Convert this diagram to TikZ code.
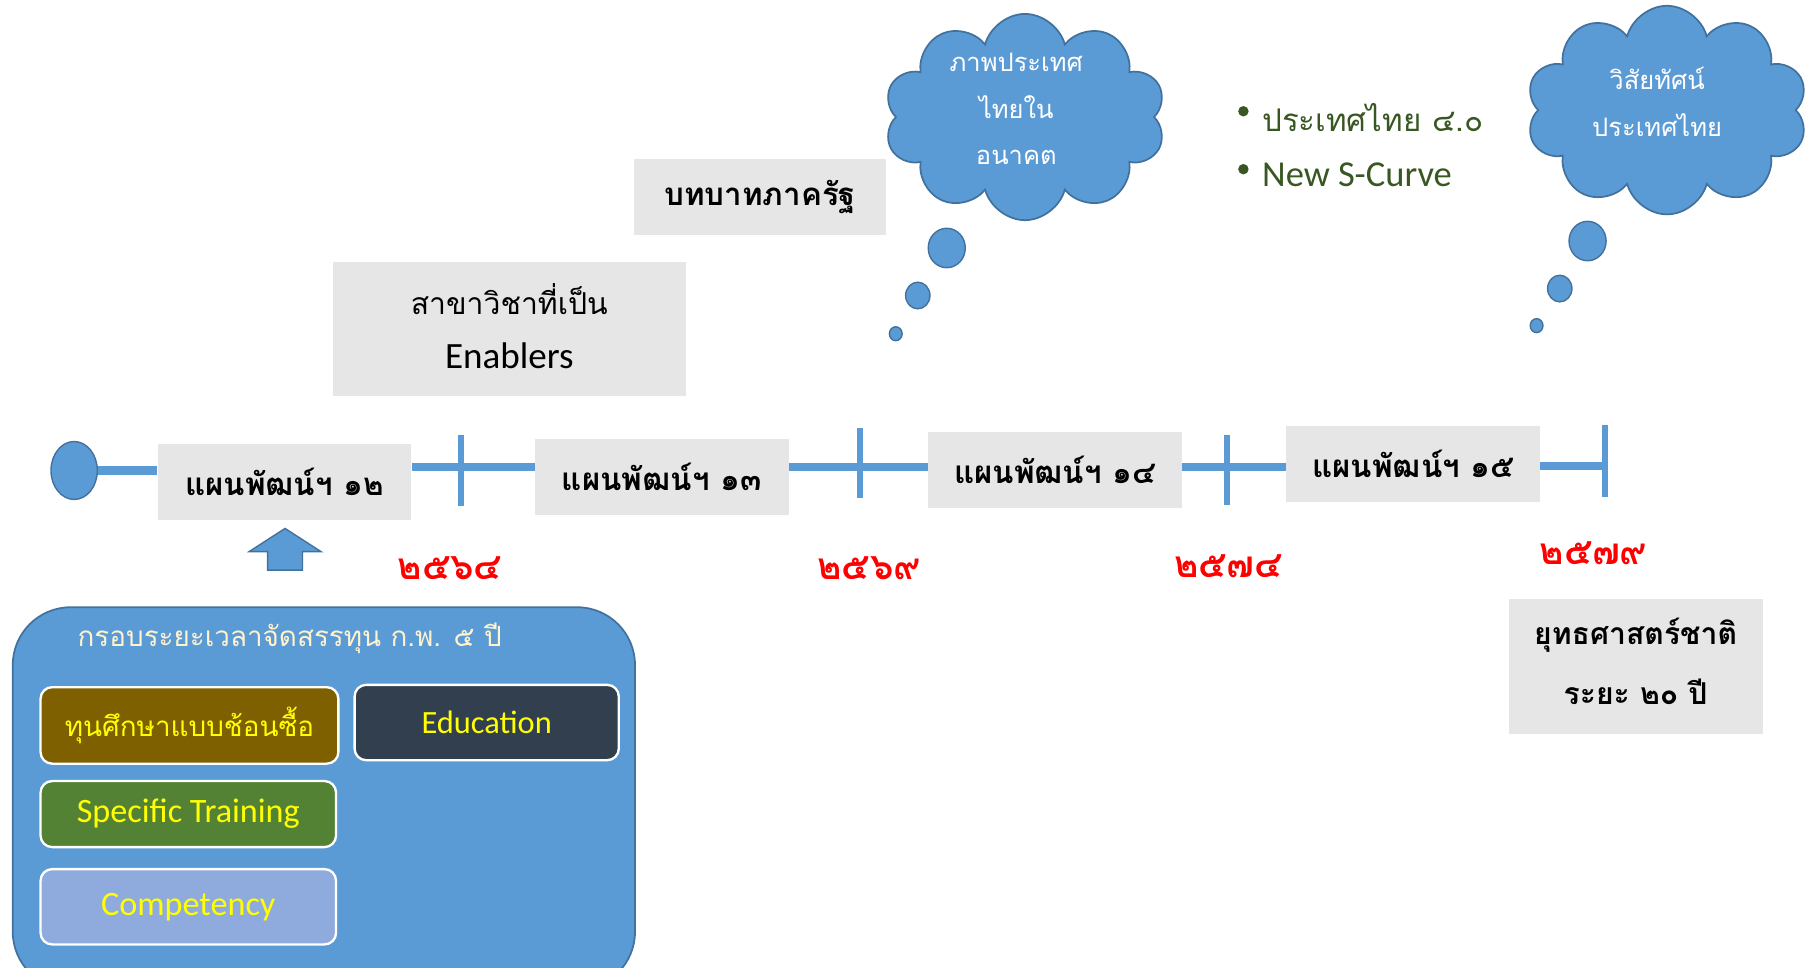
\documentclass[tikz,border=0pt]{standalone}
\usepackage{fontspec}
\setmainfont{Carlito}
\newfontfamily\thai[Script=Thai]{Loma}
\usetikzlibrary{shapes.symbols,shapes.geometric,calc}
\definecolor{blueF}{HTML}{5B9BD5}
\definecolor{blueD}{HTML}{41719C}
\definecolor{grayB}{HTML}{E7E6E6}
\definecolor{redY}{HTML}{FF0000}
\definecolor{cream}{HTML}{FFF2CC}
\definecolor{gold}{HTML}{7F6000}
\definecolor{slate}{HTML}{323F4F}
\definecolor{greenB}{HTML}{548235}
\definecolor{lav}{HTML}{8FAADC}
\definecolor{yel}{HTML}{FFFF00}
\definecolor{dgreen}{HTML}{385723}
\tikzset{
  graybox/.style={fill=grayB, draw=none, inner sep=0, align=center},
  plan/.style={graybox, minimum width=219pt, minimum height=66pt, font=\thai\bfseries\fontsize{27}{32}\selectfont},
  tl/.style={draw=blueF, line width=7pt},
  tick/.style={draw=blueF, line width=5pt},
  yr/.style={text=redY, font=\thai\bfseries\fontsize{32}{36}\selectfont, inner sep=0},
  inner/.style={draw=white, line width=2pt, rounded corners=10pt, inner sep=0, text=yel},
  cloudy/.style={cloud, cloud puffs=10, cloud ignores aspect, fill=blueF, draw=blueD, line width=1.5pt, inner sep=0},
  bub/.style={ellipse, fill=blueF, draw=blueD, line width=1.2pt, inner sep=0},
}
\begin{document}
\begin{tikzpicture}[x=1pt,y=-1pt]
\useasboundingbox (0,0) rectangle (1568,835);
% timeline
\node[ellipse, fill=blueF, draw=blueD, line width=1.2pt, minimum width=40pt, minimum height=50pt, inner sep=0] (e) at (64,406) {};
\node[plan] (p12) at (245.5,416) {แผนพัฒน์ฯ ๑๒};
\node[plan] (p13) at (571,411.5) {แผนพัฒน์ฯ ๑๓};
\node[plan] (p14) at (910.5,405.5) {แผนพัฒน์ฯ ๑๔};
\node[plan] (p15) at (1219.5,400.5) {แผนพัฒน์ฯ ๑๕};
\coordinate (k1) at (398,403);
\coordinate (k2) at (742,403);
\coordinate (k3) at (1059,403);
\coordinate (k4) at (1385,402);
\draw[tl] (e.east) -- (e.east -| p12.west);
\draw[tl] (p12.east |- k1) -- (k1) -- (p13.west |- k1);
\draw[tl] (p13.east |- k2) -- (k2) -- (p14.west |- k2);
\draw[tl] (p14.east |- k3) -- (k3) -- (p15.west |- k3);
\draw[tl] (p15.east |- k4) -- (k4);
\draw[tick] ($(k1)+(0,-28)$) -- ($(k1)+(0,34)$);
\draw[tick] ($(k2)+(0,-34)$) -- ($(k2)+(0,27)$);
\draw[tick] ($(k3)+(0,-28)$) -- ($(k3)+(0,33)$);
\draw[tick] ($(k4)+(0,-35)$) -- ($(k4)+(0,27)$);
% years
\node[yr] (y1) at (388,490) {๒๕๖๔};
\node[yr] (y2) at (750,490) {๒๕๖๙};
\node[yr] (y3) at (1060,489) {๒๕๗๔};
\node[yr] (y4) at (1375,477) {๒๕๗๙};
% up arrow
\draw[fill=blueF, draw=blueD, line width=1.2pt] (231,492) -- (231,476) -- (215,476) -- (246,456) -- (277,476) -- (261,476) -- (261,492) -- cycle;
% big box
\node[fill=blueF, draw=blueD, line width=1.5pt, rounded corners=50pt, minimum width=537pt, minimum height=330pt, inner sep=0] (big) at (279.5,689) {};
\node[text=cream, font=\thai\fontsize{24}{28}\selectfont, inner sep=0] (ttl) at (250,551) {กรอบระยะเวลาจัดสรรทุน ก.พ. ๕ ปี};
\node[inner, fill=gold, minimum width=257pt, minimum height=66pt, font=\thai\fontsize{24}{28}\selectfont] (b1) at (163.5,626) {ทุนศึกษาแบบช้อนซื้อ};
\node[inner, fill=slate, minimum width=228pt, minimum height=65pt, font=\fontsize{28}{32}\selectfont] (b2) at (420,623.5) {Education};
\node[inner, fill=greenB, minimum width=255pt, minimum height=57pt, font=\fontsize{29.5}{33}\selectfont] (b3) at (162.5,702.5) {Specific Training};
\node[inner, fill=lav, minimum width=255pt, minimum height=65pt, font=\fontsize{29.5}{33}\selectfont] (b4) at (162.5,782.5) {Competency};
% top boxes
\node[graybox, minimum width=305pt, minimum height=116pt] (en) at (439.5,284) {};
\node[font=\thai\fontsize{26}{31}\selectfont, inner sep=0] (en1) at (439.5,258) {สาขาวิชาที่เป็น};
\node[font=\fontsize{32}{36}\selectfont, inner sep=0] (en2) at (439.5,307) {Enablers};
\node[graybox, minimum width=218pt, minimum height=66pt, font=\thai\bfseries\fontsize{27}{32}\selectfont] (bt) at (656,170) {บทบาทภาครัฐ};
% clouds
\node[cloudy, minimum width=243pt, minimum height=178pt] (c1) at (884.5,101) {};
\node[text=white, font=\thai\fontsize{22}{26}\selectfont, inner sep=0, align=center] at (877,94) {ภาพประเทศ\\[14pt]ไทยใน\\[14pt]อนาคต};
\node[bub, minimum width=32pt, minimum height=34pt] (c1a) at (817,214) {};
\node[bub, minimum width=21pt, minimum height=23pt] (c1b) at (792,255) {};
\node[bub, minimum width=11pt, minimum height=12pt] (c1c) at (773,288) {};
\node[cloudy, minimum width=243pt, minimum height=180pt] (c2) at (1438.5,95) {};
\node[text=white, font=\thai\fontsize{22}{26}\selectfont, inner sep=0, align=center] at (1430,88) {วิสัยทัศน์\\[14pt]ประเทศไทย};
\node[bub, minimum width=32pt, minimum height=34pt] (c2a) at (1370,208) {};
\node[bub, minimum width=21pt, minimum height=23pt] (c2b) at (1346,249) {};
\node[bub, minimum width=11pt, minimum height=12pt] (c2c) at (1326,281) {};
% bullets
\fill[dgreen] (1073,96) circle (4.5pt);
\fill[dgreen] (1073,146) circle (4.5pt);
\node[anchor=west, text=dgreen, font=\thai\fontsize{27}{32}\selectfont, inner sep=0] (bl1) at (1089,101) {ประเทศไทย ๔.๐};
\node[anchor=west, text=dgreen, font=\fontsize{31.5}{36}\selectfont, inner sep=0] (bl2) at (1089,151) {New S-Curve};
% strategy box
\node[graybox, minimum width=219pt, minimum height=116pt] (st) at (1411.5,575) {};
\node[font=\thai\bfseries\fontsize{26}{31}\selectfont, inner sep=0] (st1) at (1411.5,548) {ยุทธศาสตร์ชาติ};
\node[font=\thai\bfseries\fontsize{26}{31}\selectfont, inner sep=0] (st2) at (1411.5,597) {ระยะ ๒๐ ปี};
\end{tikzpicture}
\end{document}
